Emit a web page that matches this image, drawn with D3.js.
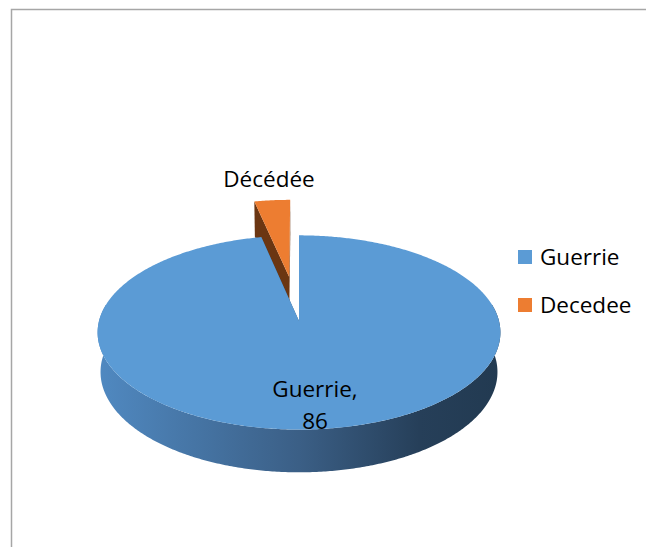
<!DOCTYPE html>
<html>
<head>
<meta charset="utf-8">
<script src="https://cdn.jsdelivr.net/npm/d3@7"></script>
<style>
  body { margin: 0; background: #fff; }
  svg { display: block; font-family: "Open Sans", sans-serif; }
</style>
</head>
<body>
<svg id="chart" width="646" height="547"></svg>
<script>
// data
const categories = ["Guerrie", "Decedee"]
const values = [86, 3]
const dataLabels = [["Guerrie,", "86"], ["Décédée"]]
const colors = ["#5B9BD5", "#ED7D31"]
const explode = [0, 0.49]

const svg = d3.select('#chart')
const W = 646, H = 547

// frame (only top and left borders are in view)
svg.append('path')
    .attr('d', `M11.5,${H} V9.5 H${W}`)
    .attr('fill', 'none')
    .attr('stroke', '#a6a6a6')
    .attr('stroke-width', 1.5)

// simple perspective camera for the 3d pie
const cx = 299, cy = 321
const F = 1490, D = 7.45
const tilt = 28.6 * Math.PI / 180
const depth = 0.2275
const cosT = Math.cos(tilt), sinT = Math.sin(tilt)

const proj = (X, Y, Z)=>{
    const yc = Y * cosT + Z * sinT
    const d = D + Z * cosT - Y * sinT
    return [cx + F * X / d, cy - F * yc / d]
}

const pie = d3.pie().sort(null).value(d=>d)
const arcs = pie(values)

const rimPoints = (a, b, Y, ox, oz)=>{
    const n = Math.max(2, Math.ceil(Math.abs(b - a) / 0.01))
    return d3.range(n + 1).map(i=>{
        const t = a + (b - a) * i / n
        return proj(ox + Math.sin(t), Y, oz + Math.cos(t))
    })
}
const line = d3.line()

const defs = svg.append('defs')
const sideGrad = defs.append('linearGradient')
    .attr('id', 'side0')
    .attr('gradientUnits', 'userSpaceOnUse')
    .attr('x1', 98).attr('x2', 500).attr('y1', 0).attr('y2', 0)
sideGrad.selectAll('stop')
    .data([[0, '#5089c1'], [0.5, '#3b5f86'], [0.8, '#263f59'], [1, '#223a51']])
    .join('stop')
    .attr('offset', d=>d[0])
    .attr('stop-color', d=>d[1])

const wallColors = ['#34587d', '#6b3612']

// draw back (exploded) slice first, then the big one
const order = [1, 0]
order.forEach(i=>{
    const a = arcs[i]
    const mid = (a.startAngle + a.endAngle) / 2
    const ox = explode[i] * Math.sin(mid), oz = explode[i] * Math.cos(mid)
    const g = svg.append('g').attr('class', 'slice slice-' + i)

    // radial walls
    ;[a.startAngle, a.endAngle].forEach(t=>{
        const pts = [
            proj(ox, 0, oz),
            proj(ox + Math.sin(t), 0, oz + Math.cos(t)),
            proj(ox + Math.sin(t), -depth, oz + Math.cos(t)),
            proj(ox, -depth, oz)
        ]
        g.append('path').attr('d', line(pts) + 'Z').attr('fill', wallColors[i])
    })

    // outer side, front part only
    const s = Math.max(a.startAngle, 80 * Math.PI / 180)
    const e = Math.min(a.endAngle, 280 * Math.PI / 180)
    if (e > s) {
        const pts = rimPoints(s, e, 0, ox, oz).concat(rimPoints(e, s, -depth, ox, oz))
        g.append('path').attr('d', line(pts) + 'Z')
            .attr('fill', i === 0 ? 'url(#side0)' : '#8a4416')
    }

    // top face
    const top = [proj(ox, 0, oz)].concat(rimPoints(a.startAngle, a.endAngle, 0, ox, oz))
    g.append('path').attr('d', line(top) + 'Z').attr('fill', colors[i])
})

// data labels
const labelPos = [[315, 397], [269, 187]]
dataLabels.forEach((lines, i)=>{
    const t = svg.append('text')
        .attr('text-anchor', 'middle')
        .attr('font-size', 22.5)
        .attr('fill', '#000')
    lines.forEach((s, j)=>{
        t.append('tspan').attr('x', labelPos[i][0]).attr('y', labelPos[i][1] + j * 32).text(s)
    })
})

// legend
const legend = svg.append('g').attr('transform', 'translate(518,250)')
const item = legend.selectAll('g').data(categories).join('g')
    .attr('transform', (d, i)=>`translate(0,${i * 48})`)
item.append('rect').attr('width', 14).attr('height', 14).attr('fill', (d, i)=>colors[i])
item.append('text').attr('x', 22).attr('y', 15).attr('font-size', 22.5).attr('fill', '#000').text(d=>d)
</script>
</body>
</html>
